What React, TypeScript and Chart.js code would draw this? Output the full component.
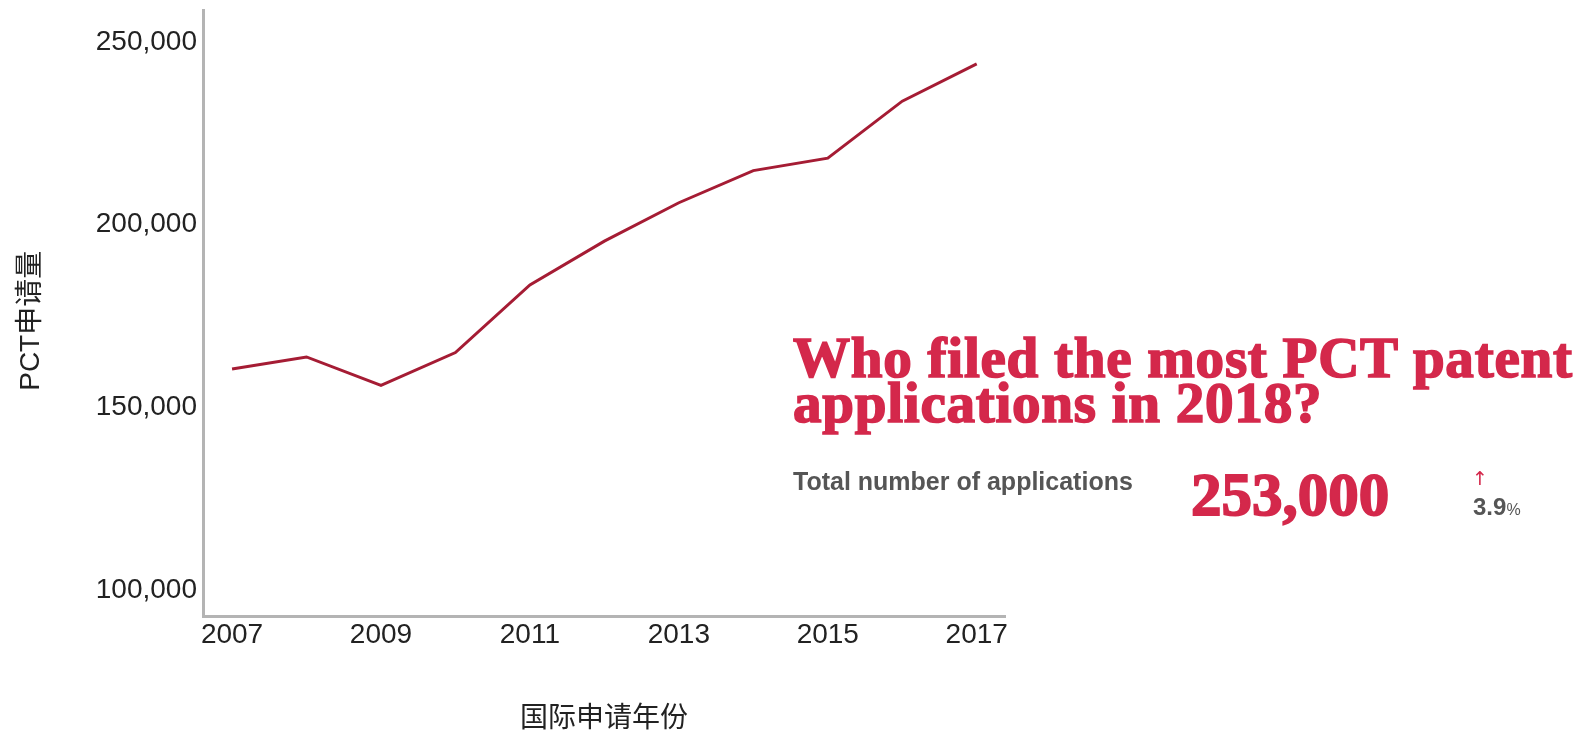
import React, { useEffect, useRef } from "react";
import { Chart, registerables } from "chart.js";

Chart.register(...registerables);

// ---- data ----
const years = [2007, 2008, 2009, 2010, 2011, 2012, 2013, 2014, 2015, 2016, 2017];
const applications = [160500, 163800, 156000, 165000, 183500, 195500, 206000, 214800, 218200, 233800, 244000];
const yTickValues = [100000, 150000, 200000, 250000];
const xTickValues = [2007, 2009, 2011, 2013, 2015, 2017];
const yAxisTitle = "PCT申请量";
const xAxisTitle = "国际申请年份";
const headlineLines = ["Who filed the most PCT patent", "applications in 2018?"];
const totalLabel = "Total number of applications";
const totalValue = "253,000";
const growthValue = "3.9";

// ---- styles ----
const RED = "#d4284b";
const LINE = "#a51c34";
const AXIS = "#b4b4b4";
const TICK = "#222222";
const GRAY = "#555555";
const SANS = "'Liberation Sans', Arial, 'Noto Sans CJK SC', sans-serif";
const SERIF = "'Liberation Serif', 'Times New Roman', serif";

export default function App() {
  const canvasRef = useRef<HTMLCanvasElement | null>(null);

  useEffect(() => {
    const canvas = canvasRef.current;
    if (!canvas) return;
    const chart = new Chart(canvas, {
      type: "line",
      data: {
        datasets: [
          {
            data: years.map((y, i) => ({ x: y, y: applications[i] })),
            borderColor: LINE,
            backgroundColor: LINE,
            borderWidth: 3,
            pointRadius: 0,
            pointHoverRadius: 0,
            tension: 0,
            fill: false,
          },
        ],
      },
      options: {
        animation: false,
        responsive: false,
        maintainAspectRatio: false,
        events: [],
        layout: { padding: { top: 10, right: 576, bottom: 0, left: 0 } },
        plugins: {
          legend: { display: false },
          tooltip: { enabled: false },
          title: { display: false },
        },
        scales: {
          x: {
            type: "linear",
            min: 2006.61,
            max: 2017.38,
            afterBuildTicks: (s: any) => {
              s.ticks = xTickValues.map((v) => ({ value: v }));
            },
            afterFit: (s: any) => {
              s.height = 118;
              s.paddingLeft = 0;
              s.paddingRight = 0;
            },
            grid: { display: false, drawTicks: false },
            border: { display: true, color: AXIS, width: 3 },
            ticks: {
              font: { family: SANS, size: 28 },
              color: TICK,
              padding: 2,
              maxRotation: 0,
              autoSkip: false,
              callback: (v: any) => String(v),
            },
            title: {
              display: true,
              text: xAxisTitle,
              font: { family: SANS, size: 28, lineHeight: 1.05 },
              color: TICK,
              padding: { top: 0, bottom: 0 },
            },
          },
          y: {
            type: "linear",
            min: 92900,
            max: 258750,
            afterBuildTicks: (s: any) => {
              s.ticks = yTickValues.map((v) => ({ value: v }));
            },
            afterFit: (s: any) => {
              s.width = 203;
              s.paddingTop = 0;
              s.paddingBottom = 0;
            },
            grid: { display: false, drawTicks: false },
            border: { display: true, color: AXIS, width: 3 },
            ticks: {
              font: { family: SANS, size: 28 },
              color: TICK,
              padding: 6,
              autoSkip: false,
              callback: (v: any) => Number(v).toLocaleString("en-US"),
            },
            title: {
              display: true,
              text: yAxisTitle + "  ",
              font: { family: SANS, size: 28 },
              color: TICK,
              padding: { top: 14, bottom: 0 },
            },
          },
        },
      },
    });
    return () => chart.destroy();
  }, []);

  return (
    <div
      style={{
        position: "fixed",
        left: 0,
        top: 0,
        width: 1581,
        height: 734,
        background: "#ffffff",
        overflow: "hidden",
      }}
    >
      <canvas
        ref={canvasRef}
        width={1581}
        height={734}
        style={{ position: "absolute", left: 0, top: 0, width: 1581, height: 734, display: "block" }}
      />
      <div
        style={{
          position: "absolute",
          left: 793,
          top: 336,
          fontFamily: SERIF,
          fontWeight: 700,
          fontSize: 56,
          lineHeight: "45px",
          letterSpacing: "0.7px",
          color: RED,
          whiteSpace: "nowrap",
          WebkitTextStroke: `1.6px ${RED}`,
          transform: "scaleX(1.02)",
          transformOrigin: "left top",
        }}
      >
        {headlineLines.map((l, i) => (
          <div key={i}>{l}</div>
        ))}
      </div>
      <div
        style={{
          position: "absolute",
          left: 793,
          top: 469,
          fontFamily: SANS,
          fontWeight: 700,
          fontSize: 25,
          lineHeight: 1,
          color: GRAY,
          whiteSpace: "nowrap",
        }}
      >
        {totalLabel}
      </div>
      <div
        style={{
          position: "absolute",
          left: 1191,
          top: 464,
          fontFamily: SERIF,
          fontWeight: 700,
          fontSize: 61,
          lineHeight: 1,
          color: RED,
          whiteSpace: "nowrap",
          WebkitTextStroke: `1.8px ${RED}`,
          transformOrigin: "left top",
        }}
      >
        {totalValue}
      </div>
      <div
        style={{
          position: "absolute",
          left: 1472,
          top: 469,
          fontFamily: "'DejaVu Sans', sans-serif",
          fontWeight: 400,
          fontSize: 19,
          lineHeight: 1,
          color: RED,
          whiteSpace: "nowrap",
        }}
      >
        ↑
      </div>
      <div
        style={{
          position: "absolute",
          left: 1473,
          top: 495,
          fontFamily: SANS,
          fontWeight: 700,
          fontSize: 24,
          lineHeight: 1,
          color: GRAY,
          whiteSpace: "nowrap",
        }}
      >
        {growthValue}
        <span style={{ fontSize: 16, fontWeight: 400 }}>%</span>
      </div>
    </div>
  );
}
